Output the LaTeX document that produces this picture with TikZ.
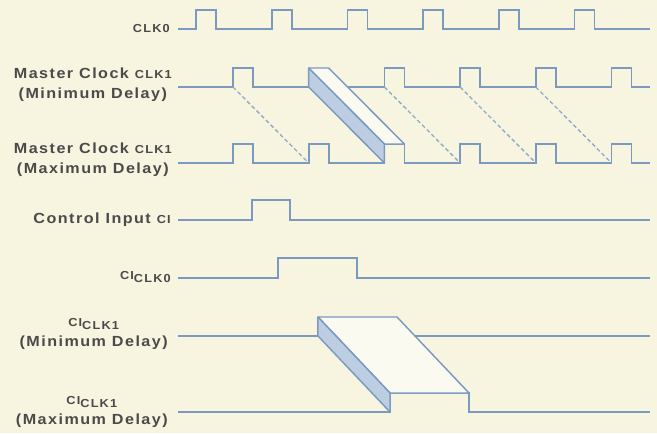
\documentclass[tikz,border=0pt]{standalone}
\usepackage{fontspec}
\setmainfont{Liberation Sans}[FakeStretch=1.1, LetterSpace=10]
\definecolor{tdpaper}{HTML}{F7F5E0}
\definecolor{tdline}{HTML}{7C9AC0}
\definecolor{tdface}{HTML}{BDCEE3}
\definecolor{tdtop}{HTML}{FBFAF0}
\definecolor{tdtext}{HTML}{4A4A4A}
\newcommand{\sm}[1]{{\fontsize{8.7}{10}\selectfont #1}}
\newcommand{\subsm}[1]{\raisebox{-2.5pt}{\sm{#1}}}

\begin{document}
\begin{tikzpicture}[
      x=0.75pt, y=-0.75pt,
      wave/.style={tdline, line width=1.3pt},
      delay/.style={tdline!85, line width=1pt, dash pattern=on 3pt off 2pt},
      topface/.style={fill=tdtop, draw=tdline, line width=1.1pt, line join=round},
      frontface/.style={fill=tdface, draw=tdline, line width=1.1pt, line join=round},
      label/.style={font=\bfseries\fontsize{11}{15}\selectfont, text=tdtext,
        align=center, anchor=east, inner sep=0pt}
    ]
      % Paper
      \fill[tdpaper] (0,0) rectangle (657,433);
      \useasboundingbox (0,0) rectangle (657,433);

      % Labels
      \node[label] (lclk0) at (170,29) {\sm{CLK0}};
      \node[label] (lmin) at (172,85) {Master Clock \sm{CLK1}\\(Minimum Delay)};
      \node[label] (lmax) at (172,160) {Master Clock \sm{CLK1}\\(Maximum Delay)};
      \node[label] (lci) at (171,220) {Control Input \sm{CI}};
      \node[label] (lci0) at (171,277) {\sm{CI}\subsm{CLK0}};
      \node[label] (lcimin) at (168,334) {\sm{CI}\subsm{CLK1}\\(Minimum Delay)};
      \node[label] (lcimax) at (168,412) {\sm{CI}\subsm{CLK1}\\(Maximum Delay)};

      % Clock rows
      \draw[wave] (178,29) -| (196,10) -| (216,29) -| (271.7,10) -| (291.7,29)
        -| (347.4,10) -| (367.4,29) -| (423.1,10) -| (443.1,29)
        -| (498.8,10) -| (518.8,29) -| (574.5,10) -| (594.5,29) -- (650,29);
      \draw[wave] (178,87) -| (233,68) -| (253,87) -| (308.7,68);
      \draw[wave] (347.6,87) -| (384.4,68) -| (404.4,87) -| (460.1,68) -| (480.1,87)
        -| (535.8,68) -| (555.8,87) -| (611.5,68) -| (631.5,87) -- (650,87);
      \draw[wave] (178,163) -| (233,144) -| (253,163) -| (308.7,144) -| (328.7,163)
        -| (384.4,144) -| (404.4,163) -| (460.1,144) -| (480.1,163)
        -| (535.8,144) -| (555.8,163) -| (611.5,144) -| (631.5,163) -- (650,163);

      % Delay lines
      \draw[delay] (233,87) -- (308.7,163);
      \draw[delay] (384.4,87) -- (460.1,163);
      \draw[delay] (460.1,87) -- (535.8,163);
      \draw[delay] (535.8,87) -- (611.5,163);

      % Clock delay prism
      \path[topface] (308.7,68) -- (328.7,68) -- (404.4,144) -- (384.4,144) -- cycle;
      \path[frontface] (308.7,68) -- (308.7,87) -- (384.4,163) -- (384.4,144) -- cycle;

      % Control rows
      \draw[wave] (178,220) -| (252,200) -| (290,220) -- (650,220);
      \draw[wave] (178,278) -| (278,258) -| (357,278) -- (650,278);
      \draw[wave] (178,336) -| (318,317);
      \draw[wave] (415,336) -- (650,336);
      \draw[wave] (178,412) -| (390,393) -| (469,412) -- (650,412);

      % Control delay prism
      \path[topface] (318,317) -- (397,317) -- (469,393) -- (390,393) -- cycle;
      \path[frontface] (318,317) -- (318,336) -- (390,412) -- (390,393) -- cycle;
    \end{tikzpicture}
\end{document}
